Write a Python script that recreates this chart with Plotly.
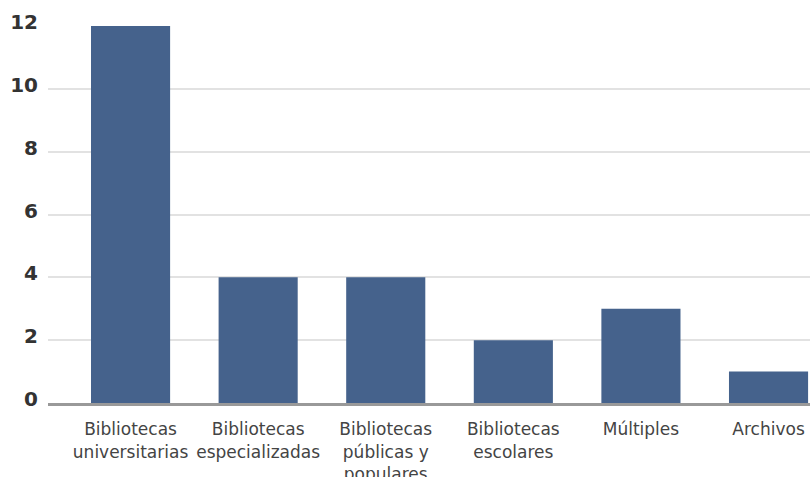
import plotly.graph_objects as go

categories = [
    "Bibliotecas<br>universitarias",
    "Bibliotecas<br>especializadas",
    "Bibliotecas<br>públicas y<br>populares",
    "Bibliotecas<br>escolares",
    "Múltiples",
    "Archivos",
]
values = [12, 4, 4, 2, 3, 1]
y_ticks = [0, 2, 4, 6, 8, 10, 12]

fig = go.Figure(
    go.Bar(
        x=categories,
        y=values,
        marker=dict(color="#45628c", line=dict(width=0)),
        width=0.62,
    )
)

fig.update_layout(
    width=810,
    height=477,
    margin=dict(l=48, r=0, t=26, b=74),
    paper_bgcolor="white",
    plot_bgcolor="white",
    showlegend=False,
    font=dict(family="DejaVu Sans", color="#444444"),
)

fig.update_xaxes(
    range=[-0.647, 5.325],
    tickfont=dict(size=17, color="#444444", family="DejaVu Sans"),
    tickangle=0,
    showline=True,
    linecolor="#999999",
    linewidth=3,
    showgrid=False,
    ticks="",
    ticklabelstandoff=9,
    automargin=False,
)

fig.update_yaxes(
    range=[0, 12],
    tickvals=y_ticks,
    ticktext=[f"<b>{v}</b>" for v in y_ticks],
    tickfont=dict(size=20, color="#333333", family="DejaVu Sans"),
    showgrid=True,
    gridcolor="#e2e2e2",
    gridwidth=1.5,
    zeroline=False,
    showline=False,
    ticks="",
    ticklabelstandoff=9,
    ticklabelshift=-4,
    automargin=False,
)

fig.write_html(
    "out.html",
    config={"displayModeBar": False},
    post_script="document.body.style.margin='0';document.body.style.overflow='hidden';",
)
